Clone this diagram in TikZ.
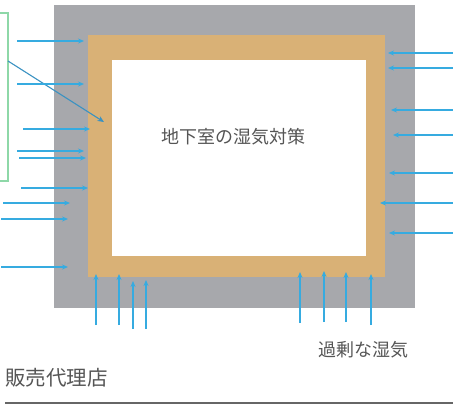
\documentclass[tikz,border=0pt]{standalone}
\usepackage{fontspec}
\newfontfamily\cjk{Noto Sans CJK JP}
\usetikzlibrary{arrows.meta}
\definecolor{wallgray}{HTML}{A7A8AC}
\definecolor{tan}{HTML}{D9B176}
\definecolor{arrowblue}{HTML}{36ABE0}
\definecolor{diagblue}{HTML}{3A92C2}
\definecolor{boxgreen}{HTML}{8ED8A8}
\definecolor{txt}{HTML}{555555}
\tikzset{
  moist/.style={draw=arrowblue, line width=1.1pt, -{Stealth[length=6pt,width=5pt]}},
  lbl/.style={font=\cjk, text=txt, inner sep=0pt},
}
\begin{document}
\begin{tikzpicture}[x=1pt,y=-1pt]
\useasboundingbox (0,0) rectangle (453,415);
% walls
\fill[wallgray] (54,5) rectangle (415,308);
\fill[tan] (88,35) rectangle (385,277);
\fill[white] (112,60) rectangle (366,256);
\node[lbl, font=\cjk\fontsize{18}{18}\selectfont] (title) at (233,137) {地下室の湿気対策};
% green bracket
\draw[boxgreen, line width=1.3pt] (0,13) -- (8,13) -- (8,181) -- (0,181);
\coordinate (bk) at (8,61);
\coordinate (tg) at (104,122);
\draw[draw=diagblue, line width=1.1pt, -{Stealth[length=6.5pt,width=5.5pt]}] (bk) -- (tg);
% left arrows
\foreach \y/\a/\b in {41/17/84, 84/17/84, 129/23/90, 151/17/84, 158/19/86, 188/21/88, 203/3/70, 219/1/68, 267/1/68}
  \draw[moist] (\a,\y) -- (\b,\y);
% right arrows
\foreach \y/\b in {53/388, 68/388, 110/391, 135/393, 173/389, 203/380, 233/389}
  \draw[moist] (453,\y) -- (\b,\y);
% bottom arrows
\foreach \x/\a/\b in {96/325/274, 119/325/274, 133/329/281, 146/329/280, 300/323/272, 324/322/271, 346/322/272, 371/325/274}
  \draw[moist] (\x,\a) -- (\x,\b);
% labels
\node[lbl, font=\cjk\fontsize{18}{18}\selectfont] (excess) at (363,350) {過剰な湿気};
\node[lbl, font=\cjk\fontsize{20.5}{20.5}\selectfont, anchor=west] (dealer) at (5,378) {販売代理店};
\coordinate (ruleA) at (5,403);
\coordinate (ruleB) at (453,403);
\draw[draw=black!60, line width=1.3pt] (ruleA) -- (ruleB);
\end{tikzpicture}
\end{document}
